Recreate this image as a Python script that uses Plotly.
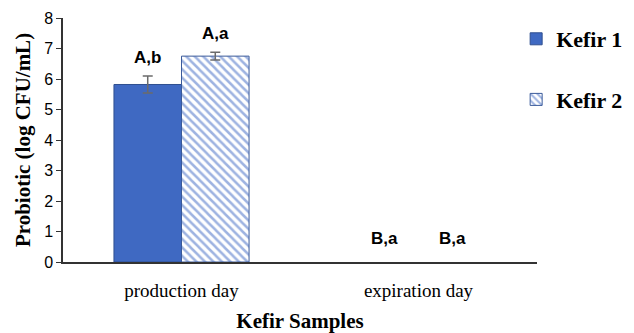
import plotly.graph_objects as go

categories = ["production day", "expiration day"]
series_names = ["Kefir 1", "Kefir 2"]
kefir1 = [5.82, 0.0]
kefir1_err = [0.28, 0.0]
kefir2 = [6.75, 0.0]
kefir2_err = [0.13, 0.0]
kefir1_labels = ["A,b", "B,a"]
kefir2_labels = ["A,a", "B,a"]
y_ticks = [0, 1, 2, 3, 4, 5, 6, 7, 8]

def bar_vals(vals):
    # zero-height bars draw nothing; leave them out so no error cap is drawn
    return [v if v > 0 else None for v in vals]

fig = go.Figure()
fig.add_trace(go.Bar(
    name="<b>%s</b>" % series_names[0], x=categories, y=bar_vals(kefir1), legendgroup="g1",
    marker=dict(color="#3f69c2", line=dict(color="#2f4f8f", width=1)),
    error_y=dict(type="data", array=kefir1_err, color="#6b6b6b", thickness=1.5, width=5, visible=True),
))
fig.add_trace(go.Bar(
    name="<b>%s</b>" % series_names[1], x=categories, y=bar_vals(kefir2), legendgroup="g2",
    marker=dict(color="white", line=dict(color="#3a5a9a", width=1),
                pattern=dict(shape="\\", fgcolor="#3d68c4", bgcolor="white", size=6, solidity=0.42)),
    error_y=dict(type="data", array=kefir2_err, color="#6b6b6b", thickness=1.5, width=5, visible=True),
))

anns = []
for vals, errs, labs, shift in [(kefir1, kefir1_err, kefir1_labels, -34), (kefir2, kefir2_err, kefir2_labels, 34)]:
    for c, v, e, t in zip(categories, vals, errs, labs):
        anns.append(dict(x=c, y=v + e, text="<b>%s</b>" % t, showarrow=False, xshift=shift,
                         yanchor="bottom", yshift=12 if v == 0 else 7,
                         font=dict(family="Liberation Sans", size=17, color="black")))

fig.update_layout(
    width=626, height=325,
    margin=dict(l=55, r=97, t=10, b=71, autoexpand=False),
    plot_bgcolor="white", paper_bgcolor="white",
    barmode="group", bargap=0.43, bargroupgap=0,
    annotations=anns,
    legend=dict(x=0.956, y=1.0, xanchor="left", yanchor="top", tracegroupgap=29,
                font=dict(family="Liberation Serif", size=22, color="black")),
    xaxis=dict(
        automargin=False,
        showline=True, linecolor="#333", linewidth=1.5,
        tickfont=dict(family="Liberation Serif", size=19, color="black"),
        ticklabelstandoff=10,
        title=dict(text="<b>Kefir Samples</b>", font=dict(family="Liberation Serif", size=21, color="black"), standoff=14),
        ticks="",
    ),
    yaxis=dict(
        automargin=False,
        range=[0, 8], tickvals=y_ticks, showline=True, linecolor="#333", linewidth=1.5,
        ticks="outside", ticklen=5, tickcolor="#333", showgrid=False, zeroline=False,
        tickfont=dict(family="Liberation Sans", size=16, color="black"),
        title=dict(text="<b>Probiotic (log CFU/mL)</b>", font=dict(family="Liberation Serif", size=21, color="black"), standoff=8),
    ),
)
fig.write_html("out.html")
